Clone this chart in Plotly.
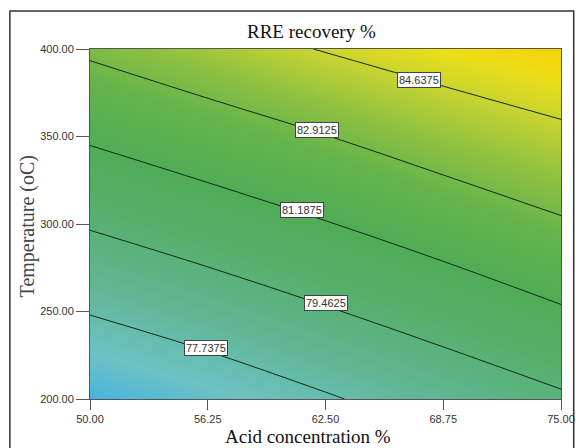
import plotly.graph_objects as go

# Axes (factor levels)
acid = [50.0, 56.25, 62.5, 68.75, 75.0]          # Acid concentration %
temp = [200.0, 250.0, 300.0, 350.0, 400.0]      # Temperature (oC)

# RRE recovery % at each (temp row, acid column)
recovery = [
    [76.03, 76.76, 77.60, 78.45, 79.26],
    [77.81, 78.55, 79.35, 80.15, 81.05],
    [79.59, 80.34, 81.12, 81.96, 82.76],
    [81.37, 82.13, 82.88, 83.66, 84.34],
    [83.15, 83.92, 84.72, 85.36, 85.86],
]

levels = [77.7375, 79.4625, 81.1875, 82.9125, 84.6375]
# contour label anchor points (acid, temp) as placed in the picture
label_acid = [56.17, 62.5, 61.25, 62.03, 67.48]
label_temp = [229.1, 254.9, 308.0, 353.7, 382.3]

x_ticks = [50.0, 56.25, 62.5, 68.75, 75.0]
y_ticks = [200.0, 250.0, 300.0, 350.0, 400.0]

zmin, zmax = 76.0, 85.9
def pos(v):
    return (v - zmin) / (zmax - zmin)

colorscale = [
    [pos(76.0), "rgb(70,180,225)"],
    [pos(77.0), "rgb(108,194,196)"],
    [pos(78.5), "rgb(95,182,145)"],
    [pos(80.0), "rgb(85,175,105)"],
    [pos(81.2), "rgb(80,172,85)"],
    [pos(82.5), "rgb(100,180,75)"],
    [pos(83.5), "rgb(140,192,65)"],
    [pos(84.5), "rgb(195,210,50)"],
    [pos(85.3), "rgb(235,222,25)"],
    [pos(85.9), "rgb(248,208,5)"],
]

fig = go.Figure()
fig.add_trace(go.Contour(
    x=acid, y=temp, z=recovery,
    zmin=zmin, zmax=zmax, zauto=False,
    colorscale=colorscale, showscale=False,
    contours=dict(coloring="heatmap", start=levels[0], end=levels[-1],
                  size=levels[1] - levels[0], showlabels=False),
    line=dict(color="#0d2a12", width=1, smoothing=1),
    hoverinfo="skip",
))

ann = []
for a, t, lv in zip(label_acid, label_temp, levels):
    ann.append(dict(x=a, y=t, xref="x", yref="y", text=f"{lv:.4f}",
                    showarrow=False, bgcolor="white", bordercolor="#444",
                    borderwidth=1, borderpad=1,
                    font=dict(family="Liberation Sans, Arial", size=11, color="#333")))

# titles
W, H = 587, 448
L, R, T, B = 90, 15, 49, 49
pw, ph = W - L - R, H - T - B
def px_x(px):
    return (px - L) / pw
def px_y(py):
    return 1 - (py - T) / ph

serif = "Liberation Serif, Times New Roman, serif"
ann.append(dict(x=px_x(317), y=px_y(31), xref="paper", yref="paper",
                text="RRE recovery %", showarrow=False, xanchor="center", yanchor="middle",
                font=dict(family=serif, size=19, color="#111")))
ann.append(dict(x=px_x(313), y=px_y(436), xref="paper", yref="paper",
                text="Acid concentration %", showarrow=False, xanchor="center", yanchor="middle",
                font=dict(family=serif, size=19, color="#111")))
ann.append(dict(x=px_x(27), y=px_y(226), xref="paper", yref="paper",
                text="Temperature (oC)", showarrow=False, textangle=-90,
                xanchor="center", yanchor="middle",
                font=dict(family=serif, size=20, color="#444")))

shapes = [dict(type="rect", xref="paper", yref="paper",
               x0=px_x(8), x1=px_x(585), y0=px_y(470), y1=px_y(11),
               line=dict(color="#333", width=1.5), layer="below")]

tickfont = dict(family="Liberation Sans, Arial", size=11, color="#333")
fig.update_layout(
    width=W, height=H,
    margin=dict(l=L, r=R, t=T, b=B),
    paper_bgcolor="white", plot_bgcolor="white",
    showlegend=False,
    annotations=ann, shapes=shapes,
    xaxis=dict(range=[50, 75], tickvals=x_ticks, tickformat=".2f",
               ticks="outside", ticklen=10, tickcolor="#555", tickwidth=1,
               showline=True, linecolor="#555", linewidth=1, mirror=True,
               showgrid=False, zeroline=False, tickfont=tickfont),
    yaxis=dict(range=[200, 400], tickvals=y_ticks, tickformat=".2f",
               ticks="outside", ticklen=13, tickcolor="#555", tickwidth=1,
               showline=True, linecolor="#555", linewidth=1, mirror=True,
               showgrid=False, zeroline=False, tickfont=tickfont),
)

fig.write_html("out.html")
